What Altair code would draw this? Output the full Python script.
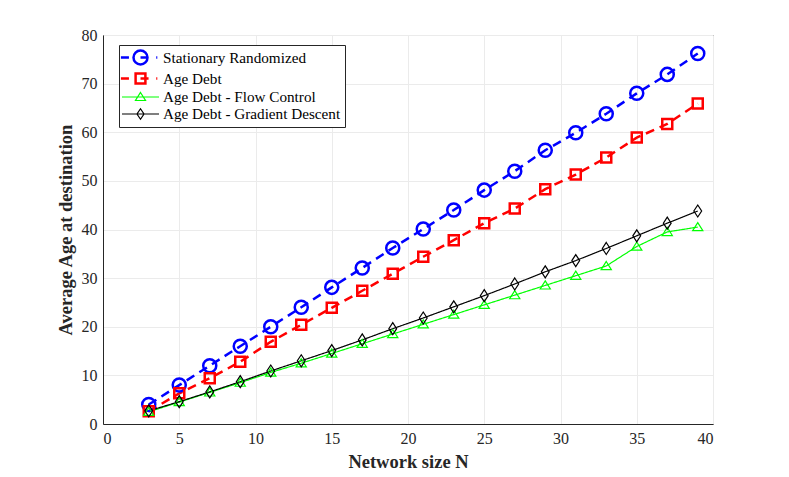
import altair as alt
import pandas as pd

N = [3, 5, 7, 9, 11, 13, 15, 17, 19, 21, 23, 25, 27, 29, 31, 33, 35, 37, 39]
stationary = [4.0, 8.0, 12.0, 16.0, 20.0, 24.0, 28.1, 32.1, 36.2, 40.1, 44.0, 48.1, 52.0, 56.3, 59.9, 63.8, 68.0, 71.9, 76.2]
age_debt = [2.6, 6.3, 9.4, 12.8, 16.9, 20.4, 23.9, 27.4, 30.9, 34.4, 37.8, 41.3, 44.3, 48.3, 51.3, 54.8, 58.9, 61.7, 65.9]
flow_control = [2.5, 4.5, 6.5, 8.5, 10.6, 12.5, 14.5, 16.5, 18.5, 20.5, 22.5, 24.5, 26.5, 28.5, 30.5, 32.5, 36.5, 39.5, 40.5]
gradient = [2.7, 4.6, 6.6, 8.7, 10.9, 13.0, 15.1, 17.3, 19.6, 21.8, 24.1, 26.4, 28.8, 31.3, 33.6, 36.1, 38.7, 41.3, 43.8]

series_names = ["Stationary Randomized", "Age Debt", "Age Debt - Flow Control", "Age Debt - Gradient Descent"]
series_values = [stationary, age_debt, flow_control, gradient]
colors = ["#0000ff", "#ff0000", "#00ff00", "#000000"]
widths = [2.5, 2.5, 1.2, 1.2]
dashes = [[9, 6], [9, 6], [1, 0], [1, 0]]
marker_shapes = [
    "circle",
    "square",
    "M0,-0.75L0.85,0.6L-0.85,0.6Z",
    "M0,-1L0.65,0L0,1L-0.65,0Z",
]
marker_sizes = [170, 100, 144, 144]

rows = []
for name, vals in zip(series_names, series_values):
    for n, v in zip(N, vals):
        rows.append({"N": n, "value": v, "series": name})
df = pd.DataFrame(rows)

FONT = "Liberation Serif"

x_enc = alt.X("N:Q", scale=alt.Scale(domain=[0, 40], nice=False),
              axis=alt.Axis(values=[0, 5, 10, 15, 20, 25, 30, 35, 40], title="Network size N"))
y_enc = alt.Y("value:Q", scale=alt.Scale(domain=[0, 80], nice=False),
              axis=alt.Axis(values=[0, 10, 20, 30, 40, 50, 60, 70, 80], title="Average Age at destination"))

dom = series_names

layers = []
for name, col, w, d in zip(series_names, colors, widths, dashes):
    layers.append(
        alt.Chart(df).transform_filter(alt.datum.series == name)
        .mark_line(color=col, strokeWidth=w, strokeDash=d)
        .encode(x=x_enc, y=y_enc)
    )
for name, col, w, shp, sz in zip(series_names, colors, widths, marker_shapes, marker_sizes):
    layers.append(
        alt.Chart(df).transform_filter(alt.datum.series == name)
        .mark_point(color=col, strokeWidth=w, shape=shp, size=sz, filled=False, opacity=1)
        .encode(x=x_enc, y=y_enc)
    )

legend_shapes = [
    "M-2.8,0L-1.65,0M-1,0A1,1 0 1,1 1,0A1,1 0 1,1 -1,0M0,0L1.15,0M2.25,0L2.4,0",
    "M-2.8,0L-1.65,0M-0.7,-0.7L0.7,-0.7L0.7,0.7L-0.7,0.7ZM0,0L1.15,0M2.25,0L2.4,0",
    "M-2.65,0L2.65,0M0,-0.65L0.72,0.5L-0.72,0.5Z",
    "M-2.65,0L2.65,0M0,-0.75L0.5,0L0,0.75L-0.5,0Z",
]

leg = alt.Legend(
    title=None, orient="none", legendX=16, legendY=10,
    symbolSize=196, symbolOffset=9, labelOffset=14,
    labelFont=FONT, labelFontSize=15.2, labelColor="#000000",
    strokeColor="#262626", fillColor="#ffffff", padding=4, rowPadding=-2,
    labelLimit=400,
)

legend_layer = alt.Chart(df).transform_filter("false").mark_point(filled=False, opacity=1).encode(
    x=x_enc, y=y_enc,
    color=alt.Color("series:N", scale=alt.Scale(domain=dom, range=colors), legend=leg),
    shape=alt.Shape("series:N", scale=alt.Scale(domain=dom, range=legend_shapes), legend=leg),
    strokeWidth=alt.StrokeWidth("series:N", scale=alt.Scale(type="ordinal", domain=dom, range=widths), legend=leg),
)
layers.append(legend_layer)

chart = alt.layer(*layers).properties(
    width=610, height=389,
    padding={"left": 48, "top": 19, "right": 5, "bottom": 5},
).configure_view(
    stroke="#262626", strokeWidth=1
).configure_axis(
    labelFont=FONT, labelFontSize=16, labelColor="#262626",
    titleFont=FONT, titleFontSize=18.5, titleFontWeight="bold", titleColor="#262626",
    grid=True, gridColor="#ebebeb", gridWidth=1,
    domainColor="#262626", ticks=False, labelPadding=6,
).configure_axisX(
    titlePadding=6
).configure_axisY(
    titlePadding=6
).configure_legend(
    labelFont=FONT, labelFontSize=15.2, labelColor="#000000"
)

chart.save("out.html", embed_options={"renderer": "svg", "actions": False})
